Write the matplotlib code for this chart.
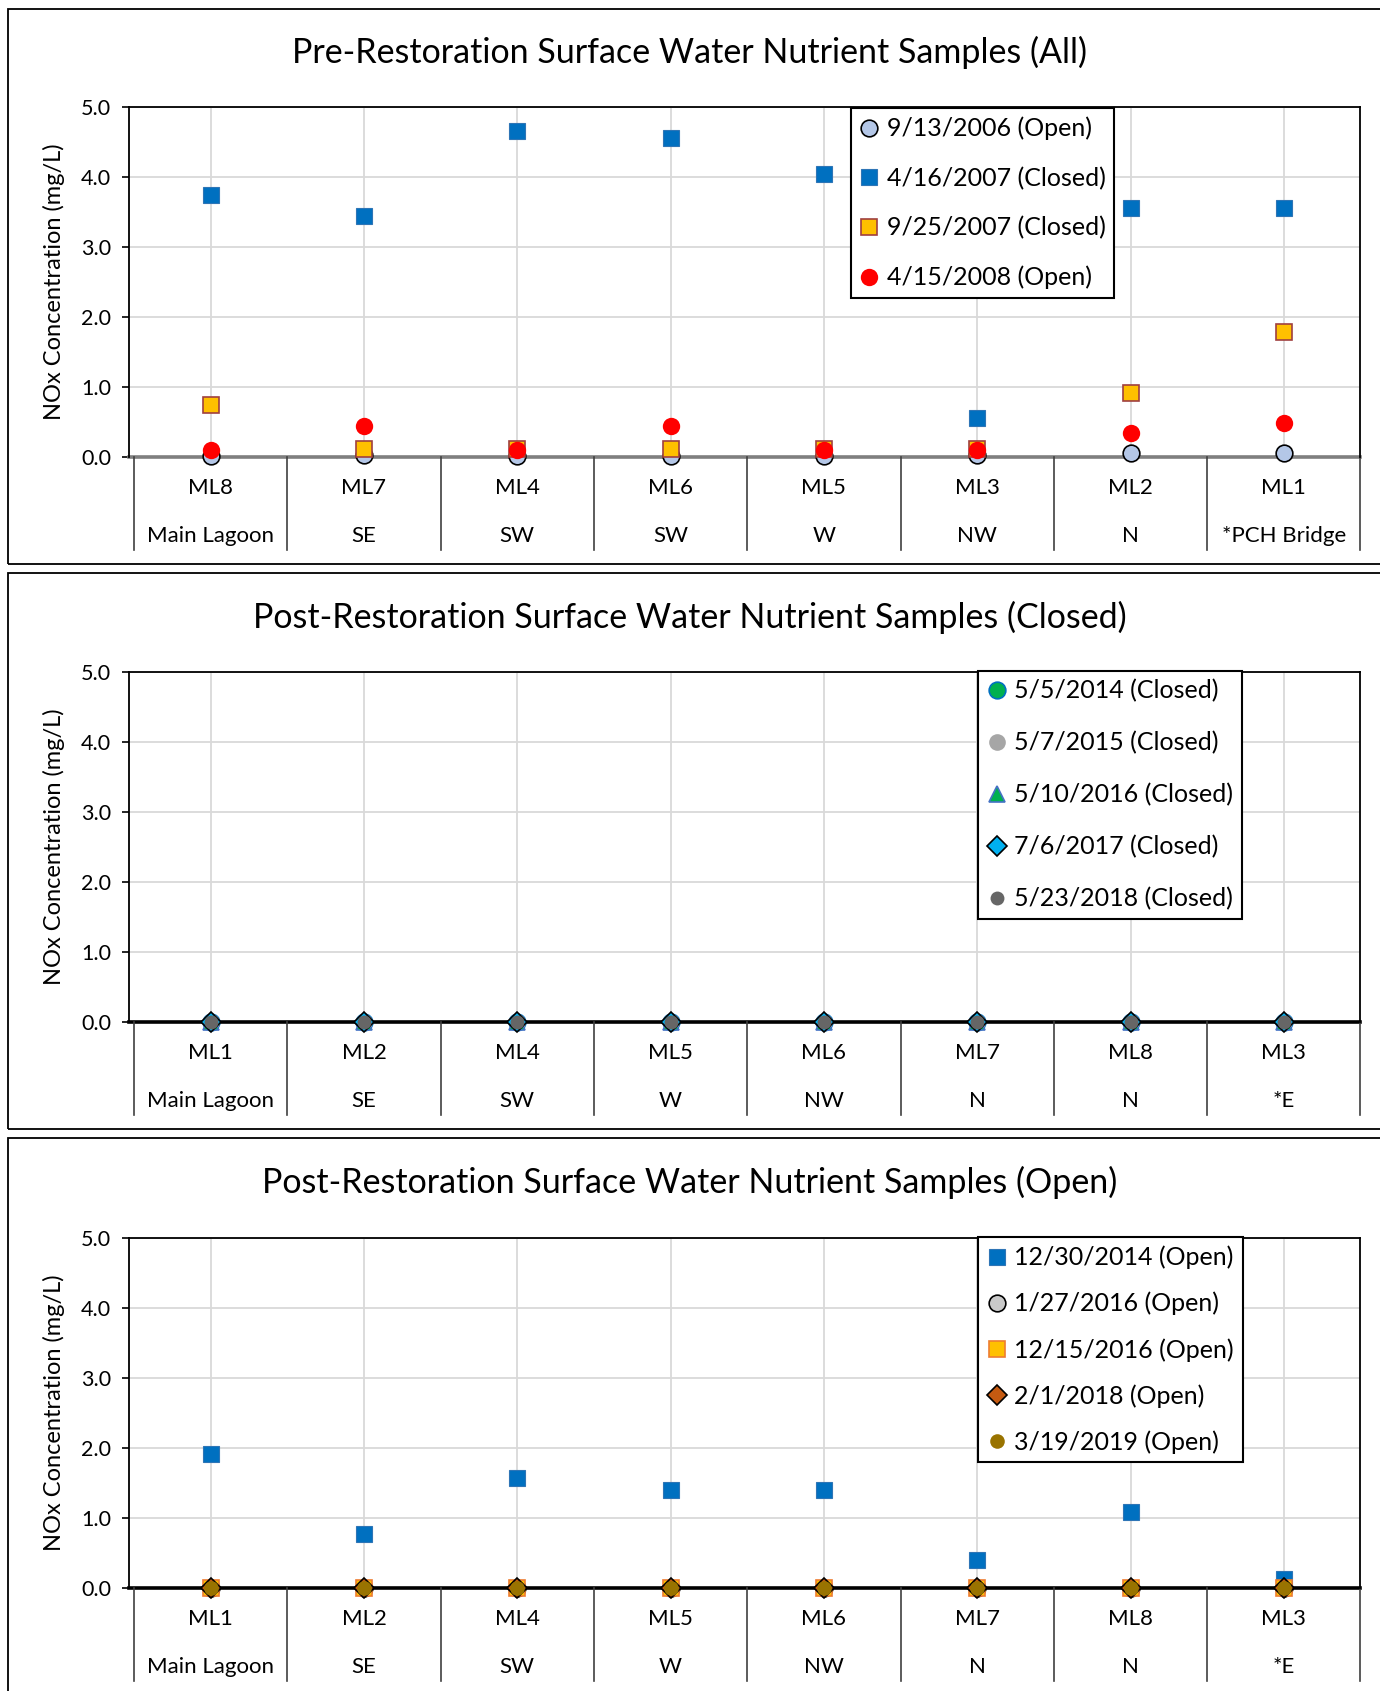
import numpy as np
import matplotlib
matplotlib.use("Agg")
import matplotlib.pyplot as plt
from matplotlib.patches import Rectangle
import matplotlib.transforms as mtransforms

plt.rcParams['font.family'] = ['Lato', 'DejaVu Sans']

# --- dati: pannello pre-restauro ---
pre_sites = ["ML8", "ML7", "ML4", "ML6", "ML5", "ML3", "ML2", "ML1"]
pre_zones = ["Main Lagoon", "SE", "SW", "SW", "W", "NW", "N", "*PCH Bridge"]
pre_2006_09 = [0.01, 0.03, 0.02, 0.02, 0.02, 0.03, 0.05, 0.05]
pre_2007_04 = [3.74, 3.44, 4.65, 4.55, 4.04, 0.55, 3.55, 3.55]
pre_2007_09 = [0.74, 0.12, 0.12, 0.12, 0.12, 0.12, 0.92, 1.78]
pre_2008_04 = [0.10, 0.44, 0.10, 0.44, 0.10, 0.10, 0.34, 0.49]

# --- dati: post-restauro (foce chiusa) ---
post_sites = ["ML1", "ML2", "ML4", "ML5", "ML6", "ML7", "ML8", "ML3"]
post_zones = ["Main Lagoon", "SE", "SW", "W", "NW", "N", "N", "*E"]
closed_2014 = [0, 0, 0, 0, 0, 0, 0, 0]
closed_2015 = [0, 0, 0, 0, 0, 0, 0, 0]
closed_2016 = [0, 0, 0, 0, 0, 0, 0, 0]
closed_2017 = [0, 0, 0, 0, 0, 0, 0, 0]
closed_2018 = [0, 0, 0, 0, 0, 0, 0, 0]

# --- dati: post-restauro (foce aperta) ---
open_2014_12 = [1.91, 0.77, 1.57, 1.40, 1.40, 0.40, 1.08, 0.12]
open_2016_01 = [0, 0, 0, 0, 0, 0, 0, 0]
open_2016_12 = [0, 0, 0, 0, 0, 0, 0, 0]
open_2018_02 = [0, 0, 0, 0, 0, 0, 0, 0]
open_2019_03 = [0, 0, 0, 0, 0, 0, 0, 0]

W, H = 1380, 1691
fig = plt.figure(figsize=(W / 100, H / 100), dpi=100)


def px_rect(left, top, right, bottom):
    return [left / W, 1 - bottom / H, (right - left) / W, (bottom - top) / H]


def panel(top_box, bottom_box, ax_top, ax_bottom, title, sites, zones,
          series, zero_color, leg_box, leg_spacing):
    # cornice del pannello
    fig.add_artist(Rectangle((7.5 / W, 1 - bottom_box / H), 1.2,
                             (bottom_box - top_box) / H,
                             transform=fig.transFigure, fill=False,
                             edgecolor="black", lw=1.3))
    fig.text(0.5, 1 - (top_box + 44) / H, title, ha="center", va="center",
             fontsize=24.5)

    ax = fig.add_axes(px_rect(129.4, ax_top, 1360.5, ax_bottom))
    x = np.arange(len(sites))
    ax.set_xlim(-0.53, len(sites) - 0.5)
    ax.set_ylim(0, 5)
    ax.set_yticks(np.arange(0, 5.01, 1.0))
    ax.set_yticklabels([f"{v:.1f}" for v in np.arange(0, 5.01, 1.0)])
    ax.set_xticks(x)
    ax.set_xticklabels([])
    ax.tick_params(axis="x", length=0)
    ax.tick_params(axis="y", direction="out", length=5, width=1.2,
                   labelsize=15.5, pad=8)
    ax.grid(True, color="#d9d9d9", lw=1.3)
    ax.set_axisbelow(True)
    for s in ["top", "left", "right"]:
        ax.spines[s].set_color("black")
        ax.spines[s].set_linewidth(1.3)
    ax.spines["bottom"].set_visible(False)
    ax.axhline(0, color=zero_color, lw=2.6, zorder=2, clip_on=False)
    ax.set_ylabel("NOx Concentration (mg/L)", fontsize=17, labelpad=12)

    # etichette di categoria su due livelli
    trans = mtransforms.blended_transform_factory(ax.transData, ax.transAxes)
    for i in range(len(sites) + 1):
        ax.plot([i - 0.5, i - 0.5], [0, -0.266], transform=trans,
                color="#404040", lw=1.2, clip_on=False)
    for i, (s, z) in enumerate(zip(sites, zones)):
        ax.text(i, -0.089, s, transform=trans, ha="center", va="center",
                fontsize=16)
        ax.text(i, -0.226, z, transform=trans, ha="center", va="center",
                fontsize=16)

    for vals, label, style in series:
        ax.plot(x, vals, linestyle="none", label=label, clip_on=False,
                zorder=3, **style)

    lx, ly = leg_box
    leg = ax.legend(loc="upper left",
                    bbox_to_anchor=(lx / W, 1 - ly / H),
                    bbox_transform=fig.transFigure, fontsize=18,
                    frameon=True, fancybox=False, framealpha=1,
                    edgecolor="black", handlelength=0.8, handletextpad=0.3,
                    borderpad=0.35, labelspacing=leg_spacing,
                    borderaxespad=0)
    leg.get_frame().set_linewidth(1.5)
    return ax


pre_series = [
    (pre_2006_09, "9/13/2006 (Open)",
     dict(marker="o", ms=12, mfc="#b4c7e7", mec="black", mew=1.2)),
    (pre_2007_04, "4/16/2007 (Closed)",
     dict(marker="s", ms=12, mfc="#0070c0", mec="#2e75b6", mew=0.8)),
    (pre_2007_09, "9/25/2007 (Closed)",
     dict(marker="s", ms=12, mfc="#ffc000", mec="#a0403f", mew=1.2)),
    (pre_2008_04, "4/15/2008 (Open)",
     dict(marker="o", ms=12.5, mfc="#ff0000", mec="#ff0000", mew=0)),
]
panel(8.6, 564, 106.7, 457,
      "Pre-Restoration Surface Water Nutrient Samples (All)",
      pre_sites, pre_zones, pre_series, "#7f7f7f", (850.5, 108), 1.05)

closed_series = [
    (closed_2014, "5/5/2014 (Closed)",
     dict(marker="o", ms=12, mfc="#00b050", mec="#0070c0", mew=1.2)),
    (closed_2015, "5/7/2015 (Closed)",
     dict(marker="o", ms=12, mfc="#a6a6a6", mec="#a6a6a6", mew=0)),
    (closed_2016, "5/10/2016 (Closed)",
     dict(marker="^", ms=12, mfc="#00b050", mec="#4472c4", mew=1.2)),
    (closed_2017, "7/6/2017 (Closed)",
     dict(marker="D", ms=10.5, mfc="#00b0f0", mec="black", mew=1.2)),
    (closed_2018, "5/23/2018 (Closed)",
     dict(marker="o", ms=10, mfc="#666666", mec="#666666", mew=0)),
]
panel(573, 1129, 671.6, 1022,
      "Post-Restoration Surface Water Nutrient Samples (Closed)",
      post_sites, post_zones, closed_series, "black", (978, 670.5), 1.15)

open_series = [
    (open_2014_12, "12/30/2014 (Open)",
     dict(marker="s", ms=12, mfc="#0070c0", mec="#2e75b6", mew=0.8)),
    (open_2016_01, "1/27/2016 (Open)",
     dict(marker="o", ms=12, mfc="#c9c9c9", mec="black", mew=1.2)),
    (open_2016_12, "12/15/2016 (Open)",
     dict(marker="s", ms=12, mfc="#ffc000", mec="#ed7d31", mew=1.2)),
    (open_2018_02, "2/1/2018 (Open)",
     dict(marker="D", ms=10, mfc="#c55a11", mec="black", mew=1.2)),
    (open_2019_03, "3/19/2019 (Open)",
     dict(marker="o", ms=10.5, mfc="#997300", mec="#997300", mew=0)),
]
panel(1138, 1700, 1237.5, 1587.8,
      "Post-Restoration Surface Water Nutrient Samples (Open)",
      post_sites, post_zones, open_series, "black", (978, 1237), 0.9)

fig.savefig("out.png", dpi=100)
